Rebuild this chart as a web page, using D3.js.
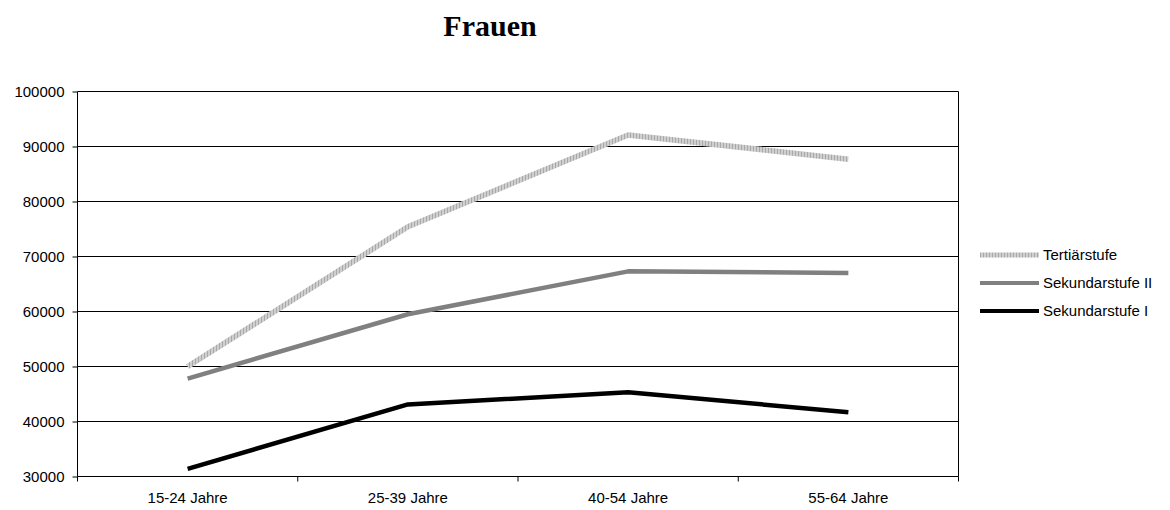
<!DOCTYPE html>
<html>
<head>
<meta charset="utf-8">
<script src="https://cdn.jsdelivr.net/npm/d3@7"></script>
<style>
  body { margin: 0; background: #fff; }
  svg { display: block; }
</style>
</head>
<body>
<div id="container"></div>
<script>
/* DATA */
const categories = ["15-24 Jahre", "25-39 Jahre", "40-54 Jahre", "55-64 Jahre"];
const tertiaerstufe = [50000, 75400, 92100, 87700];
const sekundarstufe2 = [47800, 59500, 67300, 67000];
const sekundarstufe1 = [31400, 43100, 45300, 41700];
const yTicks = [30000, 40000, 50000, 60000, 70000, 80000, 90000, 100000];
const seriesNames = ["Tertiärstufe", "Sekundarstufe II", "Sekundarstufe I"];

/* CONSTANTS */
const width = 1170, height = 510;
const margin = { top: 91.5, bottom: 33.5, left: 77.5, right: 211.5 };

const svg = d3.select("#container")
  .append("svg")
  .attr("width", width)
  .attr("height", height);

// hatched fill for the light line
const defs = svg.append("defs");
const pat = defs.append("pattern")
  .attr("id", "hatch")
  .attr("patternUnits", "userSpaceOnUse")
  .attr("width", 3)
  .attr("height", 3);
pat.append("rect").attr("width", 3).attr("height", 3).attr("fill", "#cfcfcf");
pat.append("rect").attr("width", 1).attr("height", 3).attr("fill", "#a9a9a9");

/* SCALES */
const xBand = d3.scaleBand()
  .domain(categories)
  .range([margin.left, width - margin.right])
  .paddingInner(0).paddingOuter(0);
const xMid = d => xBand(d) + xBand.bandwidth() / 2;

const yScale = d3.scaleLinear()
  .domain([30000, 100000])
  .range([height - margin.bottom, margin.top]);

const font = "'Liberation Sans', Arial, sans-serif";

// title
svg.append("text")
  .attr("x", 490)
  .attr("y", 36)
  .attr("text-anchor", "middle")
  .style("font-family", "'Liberation Serif', 'Times New Roman', serif")
  .style("font-weight", "bold")
  .style("font-size", "30px")
  .text("Frauen");

// gridlines
svg.append("g")
  .selectAll("line")
  .data(yTicks)
  .join("line")
  .attr("x1", margin.left)
  .attr("x2", width - margin.right)
  .attr("y1", d => yScale(d))
  .attr("y2", d => yScale(d))
  .attr("stroke", "#000")
  .attr("stroke-width", 1);

// plot border sides
svg.append("line")
  .attr("x1", margin.left).attr("x2", margin.left)
  .attr("y1", yScale(100000)).attr("y2", yScale(30000))
  .attr("stroke", "#000");
svg.append("line")
  .attr("x1", width - margin.right).attr("x2", width - margin.right)
  .attr("y1", yScale(100000)).attr("y2", yScale(30000))
  .attr("stroke", "#000");

// y axis
const yAxis = d3.axisLeft(yScale)
  .tickValues(yTicks)
  .tickSize(5)
  .tickPadding(8)
  .tickFormat(d3.format("d"));
svg.append("g")
  .attr("transform", `translate(${margin.left},0)`)
  .call(yAxis)
  .call(g => g.select(".domain").remove())
  .call(g => g.selectAll("line").attr("stroke", "#000"))
  .call(g => g.selectAll("text")
    .style("font-family", font)
    .style("font-size", "15px")
    .attr("fill", "#000"));

// x axis labels
const xAxis = d3.axisBottom(xBand).tickSize(0).tickPadding(16);
svg.append("g")
  .attr("transform", `translate(0,${yScale(30000)})`)
  .call(xAxis)
  .call(g => g.select(".domain").remove())
  .call(g => g.selectAll("text")
    .style("font-family", font)
    .style("font-size", "15px")
    .attr("fill", "#000"));

// x boundary ticks
const edges = categories.map(d => xBand(d)).concat([width - margin.right]);
svg.append("g")
  .selectAll("line")
  .data(edges)
  .join("line")
  .attr("x1", d => d).attr("x2", d => d)
  .attr("y1", yScale(30000)).attr("y2", yScale(30000) + 5)
  .attr("stroke", "#000");

/* LINES */
const series = [
  { name: seriesNames[0], values: tertiaerstufe, stroke: "url(#hatch)", w: 5.5 },
  { name: seriesNames[1], values: sekundarstufe2, stroke: "#808080", w: 4.5 },
  { name: seriesNames[2], values: sekundarstufe1, stroke: "#000", w: 4.5 }
];

const line = d3.line()
  .x((d, i) => xMid(categories[i]))
  .y(d => yScale(d));

svg.append("g")
  .selectAll("path")
  .data(series)
  .join("path")
  .attr("d", d => line(d.values))
  .attr("fill", "none")
  .attr("stroke", d => d.stroke)
  .attr("stroke-width", d => d.w)
  .attr("stroke-linejoin", "round");

/* LEGEND */
const legend = svg.append("g")
  .selectAll("g")
  .data(series)
  .join("g")
  .attr("transform", (d, i) => `translate(980,${255 + i * 28})`);

legend.append("line")
  .attr("x1", 0).attr("x2", 59)
  .attr("y1", 0).attr("y2", 0)
  .attr("stroke", d => d.stroke)
  .attr("stroke-width", d => d.w - 0.5);

legend.append("text")
  .attr("x", 63)
  .attr("y", 0)
  .attr("dy", "0.35em")
  .style("font-family", font)
  .style("font-size", "15px")
  .text(d => d.name);
</script>
</body>
</html>
